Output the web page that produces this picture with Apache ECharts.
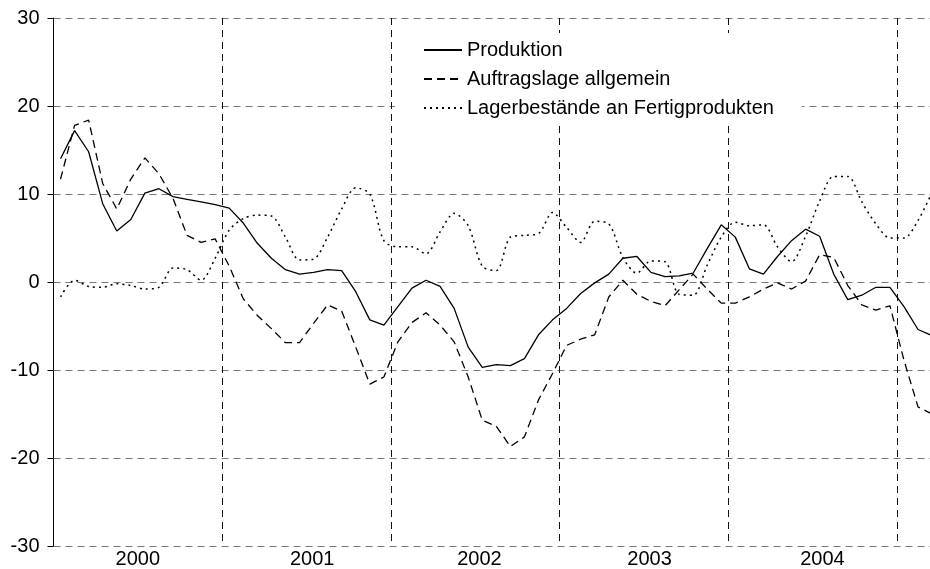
<!DOCTYPE html>
<html>
<head>
<meta charset="utf-8">
<title>Produktion, Auftragslage, Lagerbestände</title>
<script src="https://cdn.jsdelivr.net/npm/echarts@6/dist/echarts.min.js"></script>
<style>
  html, body { margin: 0; padding: 0; background: #fff; }
  #chart { width: 930px; height: 569px; }
</style>
</head>
<body>
<div id="chart"></div>
<script>
// monthly values, Jan 2000 .. Mar 2005
const years = ['2000', '2001', '2002', '2003', '2004']
const yTicks = [-30, -20, -10, 0, 10, 20, 30]

const produktion = [
  14.0, 17.2, 14.8, 8.9, 5.8, 7.1, 10.1, 10.6, 9.7, 9.4, 9.1, 8.8,
  8.4, 6.7, 4.4, 2.7, 1.4, 0.9, 1.1, 1.4, 1.3, -1.1, -4.3, -4.9,
  -2.8, -0.7, 0.2, -0.5, -3.0, -7.4, -9.7, -9.4, -9.5, -8.7, -6.0, -4.3,
  -3.0, -1.3, -0.1, 0.9, 2.7, 2.9, 1.1, 0.6, 0.7, 1.0, 3.8, 6.5,
  5.1, 1.5, 0.9, 2.9, 4.7, 6.0, 5.2, 0.9, -2.0, -1.5, -0.6, -0.6,
  -2.8, -5.4, -6.1
]

const auftragslage = [
  11.7, 17.8, 18.4, 11.2, 8.3, 11.7, 14.1, 12.3, 9.5, 5.3, 4.5, 4.9,
  1.8, -1.9, -3.8, -5.3, -6.9, -6.9, -4.7, -2.6, -3.3, -7.4, -11.6, -10.8,
  -6.8, -4.6, -3.5, -4.9, -6.8, -10.8, -15.7, -16.4, -18.7, -17.6, -13.4, -10.4,
  -7.2, -6.5, -6.0, -1.7, 0.2, -1.4, -2.2, -2.7, -0.9, 0.9, -0.8, -2.4,
  -2.4, -1.7, -0.8, -0.1, -0.8, 0.1, 3.1, 2.8, -0.4, -2.6, -3.2, -2.7,
  -8.9, -14.2, -15.0
]

const lagerbestaende = [
  -1.7, 0.2, -0.5, -0.6, -0.2, -0.4, -0.8, -0.6, 1.6, 1.4, 0.2, 2.7,
  5.9, 7.2, 7.6, 7.5, 5.1, 2.5, 2.6, 5.1, 8.3, 10.7, 10.0, 4.7,
  4.0, 4.0, 3.2, 5.7, 7.8, 6.4, 1.8, 1.3, 5.1, 5.3, 5.5, 7.9,
  6.2, 4.5, 6.9, 6.6, 2.8, 1.0, 2.4, 2.3, -1.4, -1.5, 1.9, 5.1,
  6.8, 6.4, 6.5, 4.0, 2.3, 5.2, 9.2, 12.0, 12.0, 9.1, 6.6, 5.0,
  5.0, 7.0, 10.2
]

// where the year names sit on the month axis
const yearLabelPos = [6, 18.4, 30.3, 42.4, 54.7]

const font = "'Liberation Sans', Arial, sans-serif"

// month i is drawn in the middle of its slot
function toPoints(values) {
  return values.map((v, i) => [i + 0.5, v])
}

const chart = echarts.init(document.getElementById('chart'), null, { renderer: 'canvas' })

const option = {
  animation: false,
  backgroundColor: '#fff',
  textStyle: { fontFamily: font },
  grid: { left: 53.5, right: 0, top: 18, bottom: 23 },
  legend: {
    orient: 'vertical',
    left: 395,
    top: 33,
    padding: [7, 28, 6, 28],
    backgroundColor: '#fff',
    itemWidth: 38,
    itemHeight: 14,
    itemGap: 9,
    itemStyle: { opacity: 0 },
    textStyle: { fontFamily: font, fontSize: 20, color: '#000' },
    data: ['Produktion', 'Auftragslage allgemein', 'Lagerbestände an Fertigprodukten']
  },
  xAxis: {
    type: 'value',
    min: 0,
    max: 62.35,
    interval: 12,
    axisLine: { show: false },
    axisTick: { show: false },
    axisLabel: {
      customValues: yearLabelPos,
      formatter: v => years[Math.floor(v / 12)] || '',
      fontFamily: font,
      fontSize: 20,
      color: '#000',
      margin: 3
    },
    splitLine: {
      show: true,
      lineStyle: { color: '#111', width: 1, type: [7, 5] }
    }
  },
  yAxis: {
    type: 'value',
    min: yTicks[0],
    max: yTicks[yTicks.length - 1],
    interval: 10,
    axisLine: { show: true, lineStyle: { color: '#000', width: 1 } },
    axisTick: { show: true, inside: false, length: 6, lineStyle: { color: '#000' } },
    axisLabel: { fontFamily: font, fontSize: 20, color: '#000', margin: 14 },
    splitLine: {
      show: true,
      lineStyle: { color: '#777', width: 1.2, type: [7, 5] }
    }
  },
  series: [
    {
      name: 'Produktion',
      type: 'line',
      symbol: 'none',
      color: '#000',
      lineStyle: { color: '#000', width: 1.3, type: 'solid' },
      data: toPoints(produktion)
    },
    {
      name: 'Auftragslage allgemein',
      type: 'line',
      symbol: 'none',
      color: '#000',
      lineStyle: { color: '#000', width: 1.3, type: [8, 5] },
      data: toPoints(auftragslage)
    },
    {
      name: 'Lagerbestände an Fertigprodukten',
      type: 'line',
      symbol: 'none',
      smooth: 0.3,
      color: '#000',
      lineStyle: { color: '#000', width: 1.5, type: [2, 4] },
      data: toPoints(lagerbestaende)
    }
  ]
}

chart.setOption(option)
</script>
</body>
</html>
